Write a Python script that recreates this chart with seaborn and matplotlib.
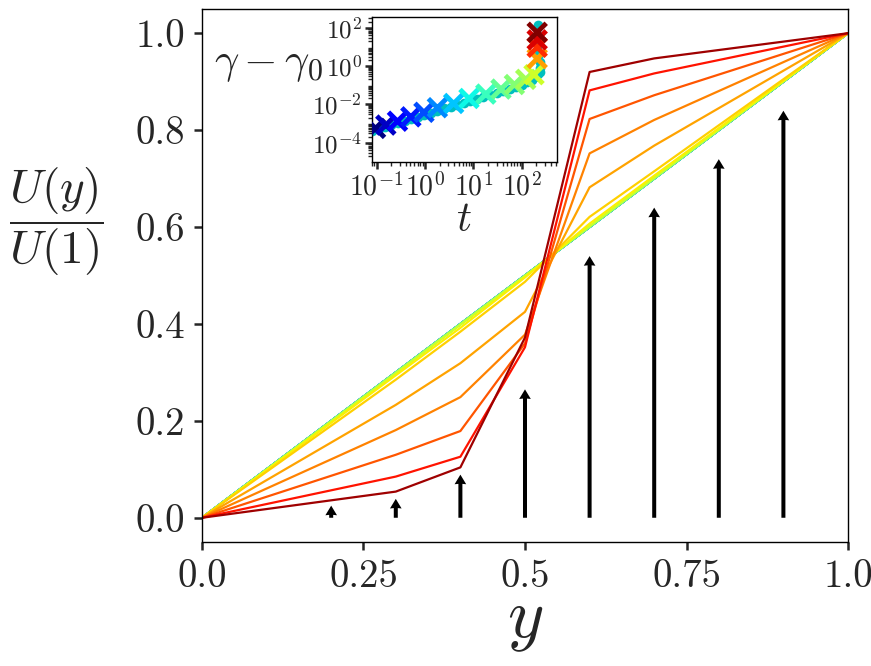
import matplotlib
matplotlib.use("Agg")
import matplotlib.pyplot as plt
import seaborn as sns
import numpy as np
from matplotlib.ticker import LogLocator, NullFormatter

# velocity profiles U(y)/U(1), sampled at the grid nodes
y_nodes = [0.0, 0.3, 0.4, 0.5, 0.6, 0.7, 1.0]
u_linear = [0.0, 0.3, 0.4, 0.5, 0.6, 0.7, 1.0]
u_step1 = [0.0, 0.298, 0.398, 0.499, 0.602, 0.702, 1.0]
u_step2 = [0.0, 0.294, 0.392, 0.496, 0.607, 0.706, 1.0]
u_step3 = [0.0, 0.285, 0.384, 0.487, 0.621, 0.715, 1.0]
u_step4 = [0.0, 0.233, 0.319, 0.425, 0.682, 0.768, 1.0]
u_step5 = [0.0, 0.181, 0.249, 0.378, 0.752, 0.821, 1.0]
u_step6 = [0.0, 0.130, 0.179, 0.360, 0.823, 0.872, 1.0]
u_step7 = [0.0, 0.085, 0.126, 0.352, 0.882, 0.917, 1.0]
u_step8 = [0.0, 0.054, 0.104, 0.372, 0.920, 0.948, 1.0]

# black arrows
arrow_y = [0.2, 0.3, 0.4, 0.5, 0.6, 0.7, 0.8, 0.9]
arrow_u = [0.025, 0.039, 0.089, 0.265, 0.54, 0.64, 0.74, 0.84]

# inset: gamma - gamma0 against t
t_path = [0.08, 0.11, 0.15, 0.2, 0.28, 0.38, 0.52, 0.7, 0.95, 1.3, 1.8, 2.5,
          3.4, 4.6, 6.3, 8.6, 12, 16, 22, 30, 41, 56, 76, 100, 130, 160, 190,
          215, 235, 240, 232, 222, 215, 212, 211]
gamma_path = [3.8e-4, 5.0e-4, 6.4e-4, 8.0e-4, 1.05e-3, 1.35e-3, 1.75e-3, 2.2e-3,
              2.8e-3, 3.6e-3, 4.7e-3, 6.0e-3, 7.6e-3, 9.6e-3, 1.2e-2, 1.5e-2,
              1.9e-2, 2.4e-2, 3.0e-2, 3.8e-2, 4.8e-2, 6.2e-2, 8.0e-2, 0.105,
              0.14, 0.19, 0.26, 0.36, 0.5, 0.8, 1.6, 4.0, 12, 40, 130]
t_marks = [0.095, 0.155, 0.27, 0.51, 0.95, 1.8, 3.9, 8.1, 18, 37, 70, 120, 178,
           207, 207, 207, 207]
gamma_marks = [5.5e-4, 8.2e-4, 1.3e-3, 2.2e-3, 3.8e-3, 6.6e-3, 1.1e-2, 0.02,
               0.034, 0.062, 0.107, 0.2, 0.35, 2.4, 9.4, 23, 57]

sns.set_style("ticks")
plt.rcParams["font.family"] = "serif"
plt.rcParams["font.serif"] = ["cmr10", "DejaVu Serif"]
plt.rcParams["mathtext.fontset"] = "cm"
plt.rcParams["axes.formatter.use_mathtext"] = True
plt.rcParams["axes.unicode_minus"] = False

jet = matplotlib.colormaps["jet"]

fig = plt.figure(figsize=(8.71, 6.66), dpi=100)
ax = fig.add_axes([0.2319, 0.1862, 0.7417, 0.8003])

linear_shades = [0.0, 0.07, 0.13, 0.2, 0.27, 0.33, 0.4, 0.47, 0.53]
for s in linear_shades:
    sns.lineplot(x=y_nodes, y=u_linear, color=jet(s), lw=1.6, ax=ax)
curves = [u_step1, u_step2, u_step3, u_step4, u_step5, u_step6, u_step7, u_step8]
curve_shades = [0.6, 0.655, 0.69, 0.735, 0.77, 0.82, 0.89, 0.97]
for u, s in zip(curves, curve_shades):
    sns.lineplot(x=y_nodes, y=u, color=jet(s), lw=1.6, ax=ax)

ax.quiver(arrow_y, np.zeros(len(arrow_y)), np.zeros(len(arrow_y)), arrow_u,
          angles="xy", scale_units="xy", scale=1, color="k", width=0.0062,
          headwidth=2.9, headlength=2.4, headaxislength=2.3, zorder=5)

ax.set_xlim(0, 1)
ax.set_ylim(-0.05, 1.05)
ax.set_xticks([0, 0.25, 0.5, 0.75, 1.0])
ax.set_xticklabels(["0.0", "0.25", "0.5", "0.75", "1.0"])
ax.set_yticks([0, 0.2, 0.4, 0.6, 0.8, 1.0])
ax.set_yticklabels(["0.0", "0.2", "0.4", "0.6", "0.8", "1.0"])
ax.tick_params(labelsize=28, length=6, width=1.8, direction="out", pad=6)
for sp in ax.spines.values():
    sp.set_linewidth(1.0)
    sp.set_color("k")

ax.set_xlabel(r"$y$", fontsize=50, va="top")
ax.xaxis.set_label_coords(0.5, -0.095)
ax.set_ylabel(r"$\dfrac{U(y)}{U(1)}$", fontsize=34, rotation=0, ha="right", va="center")
ax.yaxis.set_label_coords(-0.152, 0.602)

# inset
ax_in = fig.add_axes([0.4268, 0.7572, 0.2124, 0.2177])
sns.lineplot(x=t_path, y=gamma_path, sort=False, estimator=None, color="c",
             marker="o", markersize=7, markeredgewidth=0, lw=3, ax=ax_in)
mark_shades = [0.0, 0.06, 0.11, 0.15, 0.2, 0.26, 0.32, 0.37, 0.42, 0.47, 0.51,
               0.55, 0.6, 0.74, 0.86, 0.92, 1.0]
ax_in.scatter(t_marks, gamma_marks, c=[jet(s) for s in mark_shades], marker="x",
              s=170, linewidths=3.5, zorder=4)
ax_in.set_xscale("log")
ax_in.set_yscale("log")
ax_in.set_xlim(10 ** -1.1, 10 ** 2.72)
ax_in.set_ylim(1e-5, 10 ** 2.57)
ax_in.set_yticks([1e-4, 1e-2, 1e0, 1e2])
ax_in.set_xticks([1e-1, 1e0, 1e1, 1e2])
ax_in.xaxis.set_minor_locator(LogLocator(base=10, subs=np.arange(2, 10), numticks=30))
ax_in.yaxis.set_minor_locator(LogLocator(base=10, subs=np.arange(2, 10), numticks=30))
ax_in.xaxis.set_minor_formatter(NullFormatter())
ax_in.yaxis.set_minor_formatter(NullFormatter())
ax_in.tick_params(axis="x", which="major", labelsize=20, length=5, width=1.8, pad=3)
ax_in.tick_params(axis="y", which="major", labelsize=18, length=5, width=1.8, pad=2)
ax_in.tick_params(which="minor", length=3, width=1.0)
for sp in ax_in.spines.values():
    sp.set_linewidth(1.0)
    sp.set_color("k")
ax_in.set_xlabel(r"$t$", fontsize=30, labelpad=0)
ax_in.set_ylabel(r"$\gamma-\gamma_0$", fontsize=31, rotation=0, ha="right", va="center")
ax_in.yaxis.set_label_coords(-0.265, 0.667)

fig.savefig("out.png", dpi=100)
